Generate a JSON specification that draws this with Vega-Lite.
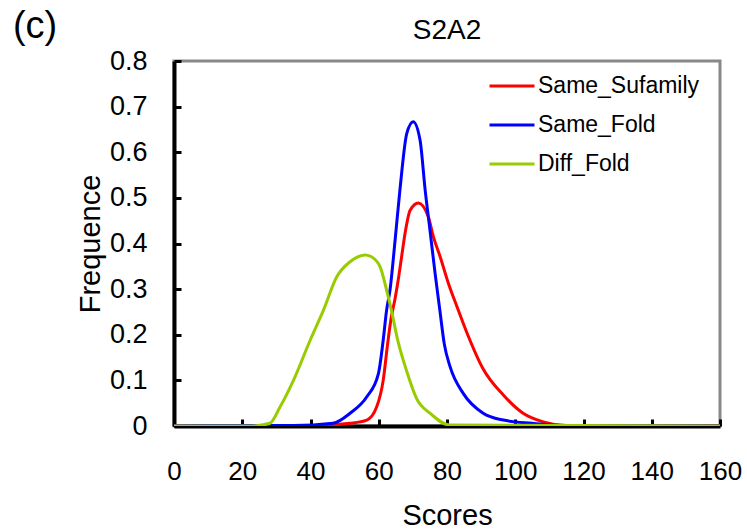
{
  "$schema": "https://vega.github.io/schema/vega-lite/v6.json",
  "width": 546,
  "height": 365,
  "autosize": {"type": "none"},
  "padding": {"left": 174, "top": 61, "right": 27, "bottom": 103},
  "background": "white",
  "config": {
    "font": "Liberation Sans",
    "view": {"stroke": "#888888", "strokeWidth": 3}
  },
  "datasets": {
    "curves": [
      {"Scores": 0, "Frequence": 0, "series": "Same_Sufamily"},
      {"Scores": 38.9, "Frequence": 0, "series": "Same_Sufamily"},
      {"Scores": 51.6, "Frequence": 0.006, "series": "Same_Sufamily"},
      {"Scores": 56.5, "Frequence": 0.013, "series": "Same_Sufamily"},
      {"Scores": 59.4, "Frequence": 0.042, "series": "Same_Sufamily"},
      {"Scores": 61.3, "Frequence": 0.1, "series": "Same_Sufamily"},
      {"Scores": 62.6, "Frequence": 0.18, "series": "Same_Sufamily"},
      {"Scores": 63.6, "Frequence": 0.235, "series": "Same_Sufamily"},
      {"Scores": 64.8, "Frequence": 0.28, "series": "Same_Sufamily"},
      {"Scores": 65.7, "Frequence": 0.32, "series": "Same_Sufamily"},
      {"Scores": 66.7, "Frequence": 0.371, "series": "Same_Sufamily"},
      {"Scores": 67.7, "Frequence": 0.422, "series": "Same_Sufamily"},
      {"Scores": 69.2, "Frequence": 0.473, "series": "Same_Sufamily"},
      {"Scores": 71.6, "Frequence": 0.489, "series": "Same_Sufamily"},
      {"Scores": 74.5, "Frequence": 0.459, "series": "Same_Sufamily"},
      {"Scores": 76.0, "Frequence": 0.415, "series": "Same_Sufamily"},
      {"Scores": 78.0, "Frequence": 0.371, "series": "Same_Sufamily"},
      {"Scores": 80.4, "Frequence": 0.313, "series": "Same_Sufamily"},
      {"Scores": 83.0, "Frequence": 0.26, "series": "Same_Sufamily"},
      {"Scores": 85.8, "Frequence": 0.205, "series": "Same_Sufamily"},
      {"Scores": 90.6, "Frequence": 0.125, "series": "Same_Sufamily"},
      {"Scores": 96.5, "Frequence": 0.068, "series": "Same_Sufamily"},
      {"Scores": 102.3, "Frequence": 0.028, "series": "Same_Sufamily"},
      {"Scores": 108.2, "Frequence": 0.009, "series": "Same_Sufamily"},
      {"Scores": 115, "Frequence": 0.001, "series": "Same_Sufamily"},
      {"Scores": 160, "Frequence": 0, "series": "Same_Sufamily"},

      {"Scores": 0, "Frequence": 0, "series": "Same_Fold"},
      {"Scores": 10, "Frequence": 0.001, "series": "Same_Fold"},
      {"Scores": 20, "Frequence": 0.001, "series": "Same_Fold"},
      {"Scores": 35, "Frequence": 0.001, "series": "Same_Fold"},
      {"Scores": 46.6, "Frequence": 0.006, "series": "Same_Fold"},
      {"Scores": 51.6, "Frequence": 0.028, "series": "Same_Fold"},
      {"Scores": 56.5, "Frequence": 0.064, "series": "Same_Fold"},
      {"Scores": 59.9, "Frequence": 0.115, "series": "Same_Fold"},
      {"Scores": 61.3, "Frequence": 0.188, "series": "Same_Fold"},
      {"Scores": 62.3, "Frequence": 0.254, "series": "Same_Fold"},
      {"Scores": 63.3, "Frequence": 0.298, "series": "Same_Fold"},
      {"Scores": 64.8, "Frequence": 0.408, "series": "Same_Fold"},
      {"Scores": 66.2, "Frequence": 0.517, "series": "Same_Fold"},
      {"Scores": 68.2, "Frequence": 0.641, "series": "Same_Fold"},
      {"Scores": 70.1, "Frequence": 0.667, "series": "Same_Fold"},
      {"Scores": 72.1, "Frequence": 0.627, "series": "Same_Fold"},
      {"Scores": 73.6, "Frequence": 0.517, "series": "Same_Fold"},
      {"Scores": 75.0, "Frequence": 0.43, "series": "Same_Fold"},
      {"Scores": 76.5, "Frequence": 0.335, "series": "Same_Fold"},
      {"Scores": 77.9, "Frequence": 0.254, "series": "Same_Fold"},
      {"Scores": 79.2, "Frequence": 0.18, "series": "Same_Fold"},
      {"Scores": 80.9, "Frequence": 0.13, "series": "Same_Fold"},
      {"Scores": 84.8, "Frequence": 0.071, "series": "Same_Fold"},
      {"Scores": 90.6, "Frequence": 0.028, "series": "Same_Fold"},
      {"Scores": 96.5, "Frequence": 0.013, "series": "Same_Fold"},
      {"Scores": 105, "Frequence": 0.006, "series": "Same_Fold"},
      {"Scores": 115, "Frequence": 0.001, "series": "Same_Fold"},
      {"Scores": 160, "Frequence": 0, "series": "Same_Fold"},

      {"Scores": 0, "Frequence": 0, "series": "Diff_Fold"},
      {"Scores": 22.9, "Frequence": 0, "series": "Diff_Fold"},
      {"Scores": 28.1, "Frequence": 0.006, "series": "Diff_Fold"},
      {"Scores": 31.1, "Frequence": 0.042, "series": "Diff_Fold"},
      {"Scores": 35.0, "Frequence": 0.1, "series": "Diff_Fold"},
      {"Scores": 39.9, "Frequence": 0.188, "series": "Diff_Fold"},
      {"Scores": 43.8, "Frequence": 0.254, "series": "Diff_Fold"},
      {"Scores": 47.7, "Frequence": 0.327, "series": "Diff_Fold"},
      {"Scores": 51.6, "Frequence": 0.36, "series": "Diff_Fold"},
      {"Scores": 56.0, "Frequence": 0.375, "series": "Diff_Fold"},
      {"Scores": 57.6, "Frequence": 0.372, "series": "Diff_Fold"},
      {"Scores": 60.4, "Frequence": 0.349, "series": "Diff_Fold"},
      {"Scores": 62.3, "Frequence": 0.298, "series": "Diff_Fold"},
      {"Scores": 63.7, "Frequence": 0.254, "series": "Diff_Fold"},
      {"Scores": 65.5, "Frequence": 0.19, "series": "Diff_Fold"},
      {"Scores": 68.2, "Frequence": 0.12, "series": "Diff_Fold"},
      {"Scores": 71.1, "Frequence": 0.06, "series": "Diff_Fold"},
      {"Scores": 75.0, "Frequence": 0.028, "series": "Diff_Fold"},
      {"Scores": 80.9, "Frequence": 0.002, "series": "Diff_Fold"},
      {"Scores": 160, "Frequence": 0, "series": "Diff_Fold"}
    ],
    "labels": [
      {"label": "(c)", "size": "big"},
      {"label": "S2A2", "size": "title"}
    ]
  },
  "layer": [
    {
      "data": {"name": "curves"},
      "mark": {"type": "line", "strokeWidth": 3, "clip": true, "interpolate": "monotone"},
      "encoding": {
        "x": {
          "field": "Scores", "type": "quantitative",
          "scale": {"domain": [0, 160], "nice": false},
          "axis": {
            "title": "Scores", "values": [0, 20, 40, 60, 80, 100, 120, 140, 160],
            "grid": false, "domainColor": "black", "domainWidth": 4,
            "tickColor": "black", "tickWidth": 3, "tickSize": -7,
            "labelFont": "Liberation Sans", "labelFontSize": 26, "labelColor": "black",
            "labelPadding": 39, "labelFlush": false,
            "titleFont": "Liberation Sans", "titleFontSize": 29, "titleFontWeight": "normal", "titleColor": "black",
            "titlePadding": 17
          }
        },
        "y": {
          "field": "Frequence", "type": "quantitative",
          "scale": {"domain": [0, 0.8], "nice": false},
          "axis": {
            "title": "Frequence", "values": [0, 0.1, 0.2, 0.3, 0.4, 0.5, 0.6, 0.7, 0.8],
            "format": ".1~f",
            "grid": false, "domainColor": "black", "domainWidth": 4,
            "tickColor": "black", "tickWidth": 3, "tickSize": -7,
            "labelFont": "Liberation Sans", "labelFontSize": 27, "labelColor": "black",
            "labelPadding": 34, "labelFlush": false,
            "titleFont": "Liberation Sans", "titleFontSize": 29, "titleFontWeight": "normal", "titleColor": "black",
            "titlePadding": 4
          }
        },
        "color": {
          "field": "series", "type": "nominal",
          "scale": {"domain": ["Same_Sufamily", "Same_Fold", "Diff_Fold"], "range": ["#ff0000", "#0000ff", "#99cc00"]},
          "legend": {
            "title": null, "orient": "none", "legendX": 314, "legendY": 1,
            "symbolType": "stroke", "symbolSize": 2025, "symbolStrokeWidth": 3,
            "labelFont": "Liberation Sans", "labelFontSize": 23, "labelColor": "black",
            "labelLimit": 300, "rowPadding": 3, "labelOffset": 2
          }
        }
      }
    },
    {
      "data": {"name": "labels"},
      "transform": [{"filter": "datum.size === 'big'"}],
      "mark": {"type": "text", "fontSize": 38, "font": "Liberation Sans", "align": "center", "baseline": "alphabetic", "clip": false, "color": "black"},
      "encoding": {
        "text": {"field": "label"},
        "x": {"datum": -40.7, "type": "quantitative"},
        "y": {"datum": 0.85, "type": "quantitative"}
      }
    },
    {
      "data": {"name": "labels"},
      "transform": [{"filter": "datum.size === 'title'"}],
      "mark": {"type": "text", "fontSize": 28, "font": "Liberation Sans", "align": "center", "baseline": "alphabetic", "clip": false, "color": "black"},
      "encoding": {
        "text": {"field": "label"},
        "x": {"datum": 80, "type": "quantitative"},
        "y": {"datum": 0.849, "type": "quantitative"}
      }
    }
  ]
}
